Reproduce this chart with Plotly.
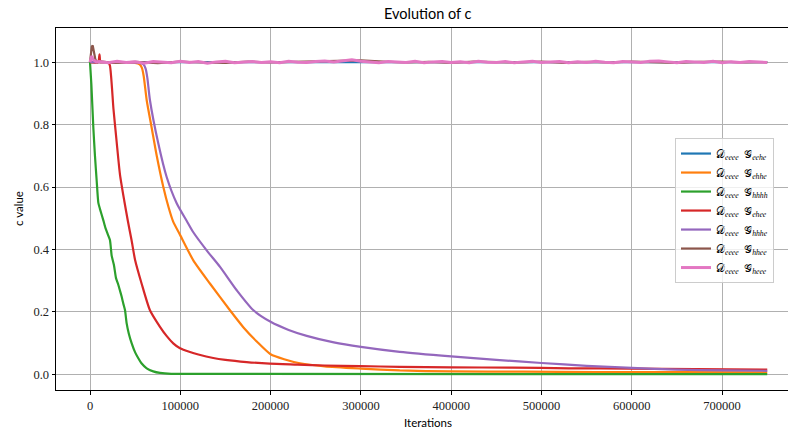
import plotly.graph_objects as go

# ---------------- data ----------------
blue_x = [0, 750000]
blue_y = [1.0, 1.0]

orange_x = [0, 50000, 55000, 57500, 59500, 62800, 68300, 73900, 81200, 87000, 92000, 100000, 114400,
            133000, 155000, 170000, 185000, 200000, 215000, 232500, 260000, 300000, 343000,
            400000, 480000, 560000, 650000, 750000]
orange_y = [1.0, 0.998, 0.993, 0.982, 0.955, 0.878, 0.79, 0.70, 0.60, 0.535, 0.49, 0.445, 0.365,
            0.29, 0.205, 0.15, 0.104, 0.064, 0.048, 0.035, 0.025, 0.018, 0.012,
            0.009, 0.008, 0.007, 0.007, 0.006]

green_x = [0, 1500, 3700, 5500, 7400, 9200, 11000, 14700, 17000, 19500, 22100, 24000, 26500,
           28800, 31000, 33000, 35100, 37000, 38800, 40600, 43000, 46200, 50000, 53500, 57000,
           62800, 70000, 77500, 90000, 750000]
green_y = [1.0, 0.93, 0.79, 0.70, 0.62, 0.55, 0.53, 0.494, 0.47, 0.45, 0.43, 0.38, 0.35,
           0.308, 0.29, 0.27, 0.248, 0.225, 0.205, 0.163, 0.13, 0.099, 0.07, 0.051, 0.035,
           0.019, 0.009, 0.004, 0.001, 0.0]

red_x = [0, 9000, 10500, 11500, 13000, 20000, 22000, 26000, 29500, 33200, 38000, 42000, 46000,
         50000, 57200, 66400, 77500, 85000, 92200, 99700, 110700, 120000, 136500, 150000,
         173500, 199000, 230000, 260000, 299000, 343000, 400000, 468000, 530000, 598000, 670000,
         750000]
red_y = [1.0, 1.0, 1.025, 1.0, 1.0, 1.0, 0.99, 0.85, 0.745, 0.64, 0.555, 0.49, 0.43,
         0.365, 0.29, 0.205, 0.152, 0.122, 0.099, 0.083, 0.071, 0.063, 0.052, 0.046,
         0.039, 0.034, 0.031, 0.028, 0.026, 0.0235, 0.022, 0.021, 0.019, 0.018, 0.016,
         0.015]

purple_x = [0, 55000, 59000, 61500, 63500, 66400, 75600, 84900, 96000, 107000, 114400, 129200,
            144000, 162500, 181000, 200000, 220000, 240000, 270000, 300000, 343000, 400000,
            450000, 500000, 550000, 600000, 650000, 700000, 750000]
purple_y = [1.0, 0.998, 0.994, 0.98, 0.95, 0.878, 0.74, 0.632, 0.548, 0.492, 0.455, 0.397,
            0.344, 0.269, 0.205, 0.168, 0.142, 0.123, 0.102, 0.0875, 0.0715, 0.057,
            0.046, 0.036, 0.027, 0.02, 0.015, 0.012, 0.011]

brown_x = [0, 1000, 2000, 3000, 4000, 5000, 6000, 8000, 12000,
           25000, 50000, 75000, 100000, 125000, 150000, 175000, 200000, 225000, 250000,
           275000, 300000, 325000, 350000, 375000, 400000, 425000, 450000, 475000, 500000,
           525000, 550000, 575000, 600000, 625000, 650000, 675000, 700000, 725000, 750000]
brown_y = [1.0, 1.03, 1.05, 1.054, 1.04, 1.02, 1.008, 1.0, 1.003,
           0.998, 1.001, 0.997, 1.002, 0.999, 0.998, 1.002, 0.999, 1.001, 1.003,
           1.004, 1.006, 1.002, 0.999, 1.001, 0.998, 1.002, 1.0, 0.999, 1.002,
           0.998, 1.001, 0.999, 1.002, 1.0, 0.998, 1.001, 1.002, 0.999, 1.0]

pink_x = [0, 1000, 2000, 3000, 5000, 7000,
          10000, 20000, 30000, 40000, 50000, 60000, 70000, 80000, 90000, 100000,
          110000, 120000, 130000, 140000, 150000, 160000, 170000, 180000, 190000, 200000,
          210000, 220000, 230000, 240000, 250000, 260000, 270000, 280000, 290000, 300000,
          310000, 320000, 330000, 340000, 350000, 360000, 370000, 380000, 390000, 400000,
          410000, 420000, 430000, 440000, 450000, 460000, 470000, 480000, 490000, 500000,
          510000, 520000, 530000, 540000, 550000, 560000, 570000, 580000, 590000, 600000,
          610000, 620000, 630000, 640000, 650000, 660000, 670000, 680000, 690000, 700000,
          710000, 720000, 730000, 740000, 750000]
pink_y = [1.0, 1.012, 1.02, 1.01, 1.004, 1.001,
          1.002, 0.998, 1.003, 0.999, 1.001, 0.997, 1.002, 1.000, 0.998, 1.003,
          0.999, 1.002, 0.997, 1.001, 1.003, 0.998, 1.000, 1.002, 0.999, 1.001,
          0.998, 1.003, 1.000, 0.999, 1.002, 1.004, 1.001, 1.005, 1.008, 1.003,
          1.001, 0.998, 1.002, 1.000, 0.999, 1.003, 0.998, 1.001, 1.002, 0.999,
          1.001, 0.998, 1.003, 1.000, 0.999, 1.002, 0.998, 1.001, 1.003, 0.999,
          1.000, 1.002, 0.998, 1.001, 0.999, 1.003, 1.000, 0.998, 1.002, 1.001,
          0.999, 1.003, 1.004, 1.001, 0.998, 1.002, 1.000, 0.999, 1.003, 0.998,
          1.001, 0.999, 1.002, 1.000, 0.999]

series_names = ["eehe", "ehhe", "hhhh", "ehee", "hhhe", "hhee", "heee"]
series_colors = ["#1f77b4", "#ff7f0e", "#2ca02c", "#d62728", "#9467bd", "#8c564b", "#e377c2"]
series_x = [blue_x, orange_x, green_x, red_x, purple_x, brown_x, pink_x]
series_y = [blue_y, orange_y, green_y, red_y, purple_y, brown_y, pink_y]
series_smooth = [0, 0.6, 0.5, 0.6, 0.7, 0, 0]

x_tick_vals = [0, 100000, 200000, 300000, 400000, 500000, 600000, 700000]
x_tick_text = ["0", "100000", "200000", "300000", "400000", "500000", "600000", "700000"]
y_tick_vals = [0.0, 0.2, 0.4, 0.6, 0.8, 1.0]
y_tick_text = ["0.0", "0.2", "0.4", "0.6", "0.8", "1.0"]

# ---------------- figure ----------------
SERIF = "Liberation Serif, DejaVu Serif, serif"
SANS = "Lato, DejaVu Sans, sans-serif"

fig = go.Figure()
for name, col, xs, ys, sm in zip(series_names, series_colors, series_x, series_y, series_smooth):
    line = dict(color=col, width=2.2)
    if sm:
        line.update(shape="spline", smoothing=sm)
    if name == "heee":
        line["width"] = 3
    fig.add_trace(go.Scatter(
        x=xs, y=ys, mode="lines",
        name="𝒟<sub><i>eeee</i></sub>  𝒢<sub><i>" + name + "</i></sub>",
        line=line,
    ))

fig.update_layout(
    width=788, height=429, autosize=False,
    margin=dict(l=56, r=0, t=28, b=39, autoexpand=False),
    plot_bgcolor="white", paper_bgcolor="white",
    showlegend=True,
    legend=dict(
        x=0.8456, y=0.696, xanchor="left", yanchor="top",
        bgcolor="rgba(255,255,255,0.8)", bordercolor="#cccccc", borderwidth=1,
        font=dict(family=SERIF, size=11, color="black"),
        tracegroupgap=0, itemwidth=30,
    ),
    annotations=[
        dict(text="Evolution of c", xref="paper", yref="paper", x=0.508, y=1.0387,
             showarrow=False, xanchor="center", yanchor="middle",
             font=dict(family=SANS, size=14.5, color="black")),
        dict(text="Iterations", xref="paper", yref="paper", x=0.508, y=-0.0884,
             showarrow=False, xanchor="center", yanchor="middle",
             font=dict(family=SANS, size=11.5, color="black")),
        dict(text="c value", xref="paper", yref="paper", x=-0.0519, y=0.5,
             showarrow=False, xanchor="center", yanchor="middle", textangle=-90,
             font=dict(family=SANS, size=11.5, color="black")),
    ],
)

fig.update_xaxes(
    range=[-37650, 773000], tickmode="array", tickvals=x_tick_vals, ticktext=x_tick_text,
    showgrid=True, gridcolor="#b0b0b0", gridwidth=1, zeroline=False,
    showline=True, linecolor="black", linewidth=1, mirror=True,
    ticks="outside", ticklen=3.5, tickcolor="black", tickwidth=1,
    tickfont=dict(family=SERIF, size=12.5, color="#222"),
)
fig.update_yaxes(
    range=[-0.0506, 1.1096], tickmode="array", tickvals=y_tick_vals, ticktext=y_tick_text,
    showgrid=True, gridcolor="#b0b0b0", gridwidth=1, zeroline=False,
    showline=True, linecolor="black", linewidth=1, mirror=False,
    ticks="outside", ticklen=3.5, tickcolor="black", tickwidth=1,
    tickfont=dict(family=SERIF, size=12.5, color="#222"),
)

fig.write_html(
    "out.html",
    config={"displayModeBar": False},
    post_script="document.body.style.margin='0';document.body.style.overflow='hidden';",
)
